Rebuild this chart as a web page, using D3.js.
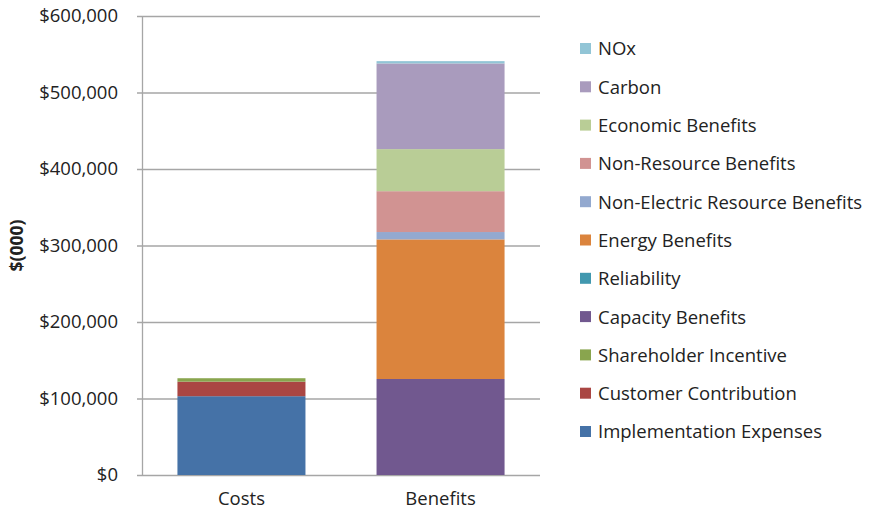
<!DOCTYPE html>
<html>
<head>
<meta charset="utf-8">
<script src="https://cdn.jsdelivr.net/npm/d3@7"></script>
<style>
  body { margin: 0; background: #fff; }
  svg { display: block; font-family: "Open Sans", sans-serif; }
</style>
</head>
<body>
<div id="chart"></div>
<script>
// 범주와 계열 (아래에서 위로 쌓이는 순서)
const categories = ["Costs", "Benefits"];
const seriesNames = [
  "Implementation Expenses", "Customer Contribution", "Shareholder Incentive",
  "Capacity Benefits", "Reliability", "Energy Benefits",
  "Non-Electric Resource Benefits", "Non-Resource Benefits", "Economic Benefits",
  "Carbon", "NOx"
];
const seriesColors = [
  "#4572A7", "#AA4643", "#89A54E",
  "#71588F", "#4198AF", "#DB843D",
  "#93A9CF", "#D19392", "#B9CD96",
  "#A99BBD", "#92C5D6"
];
// $(000) 값, seriesNames 순서
const costsValues    = [103000, 19000, 4500, 0, 0, 0, 0, 0, 0, 0, 0];
const benefitsValues = [0, 0, 0, 125500, 0, 182500, 9600, 53400, 55000, 112000, 3000];
const yTicks = [0, 100000, 200000, 300000, 400000, 500000, 600000];

const width = 871, height = 512;
const margin = {top: 16, right: 331, bottom: 37, left: 142};
const fontSize = 18.5;

const rows = categories.map((c, i) => {
  const vals = i === 0 ? costsValues : benefitsValues;
  const row = {category: c};
  seriesNames.forEach((s, j) => row[s] = vals[j]);
  return row;
});

const stacked = d3.stack().keys(seriesNames)(rows);

const svg = d3.select("#chart").append("svg")
  .attr("width", width)
  .attr("height", height);

const x = d3.scaleBand()
  .domain(categories)
  .range([margin.left, width - margin.right])
  .paddingInner(0.357)
  .paddingOuter(0.178);

const y = d3.scaleLinear()
  .domain([0, 600000])
  .range([height - margin.bottom, margin.top]);

// 격자선
svg.append("g")
  .selectAll("line")
  .data(yTicks)
  .join("line")
  .attr("x1", margin.left - 5)
  .attr("x2", width - margin.right)
  .attr("y1", d => y(d) + 0.5)
  .attr("y2", d => y(d) + 0.5)
  .attr("stroke", "#a6a6a6")
  .attr("stroke-width", 1.3);

// 막대
svg.append("g")
  .selectAll("g")
  .data(stacked)
  .join("g")
  .attr("fill", (d, i) => seriesColors[i])
  .selectAll("rect")
  .data(d => d.filter(p => p[1] - p[0] > 0))
  .join("rect")
  .attr("x", d => x(d.data.category))
  .attr("width", x.bandwidth())
  .attr("y", d => y(d[1]))
  .attr("height", d => y(d[0]) - y(d[1]));

// y축
const yAxis = svg.append("g")
  .attr("transform", `translate(${margin.left},0)`)
  .call(d3.axisLeft(y).tickValues(yTicks).tickSize(0).tickPadding(24)
    .tickFormat(d => "$" + d3.format(",")(d)));
yAxis.select(".domain").attr("stroke", "#a6a6a6").attr("stroke-width", 1.3);
yAxis.selectAll("text").attr("font-size", fontSize).attr("fill", "#222")
  .attr("font-family", "'Open Sans', sans-serif");

// x축
const xAxis = svg.append("g")
  .attr("transform", `translate(0,${height - margin.bottom})`)
  .call(d3.axisBottom(x).tickSize(0).tickPadding(17));
xAxis.select(".domain").remove();
xAxis.selectAll("text").attr("font-size", fontSize).attr("fill", "#222")
  .attr("font-family", "'Open Sans', sans-serif");

// y축 제목
svg.append("text")
  .attr("transform", `translate(23,${(margin.top + height - margin.bottom) / 2}) rotate(-90)`)
  .attr("text-anchor", "middle")
  .attr("font-size", 17.5)
  .attr("font-weight", "bold")
  .attr("fill", "#222")
  .text("$(000)");

// 범례 (위에서 아래: 쌓인 순서의 역순)
const legendItems = seriesNames.map((s, i) => ({name: s, color: seriesColors[i]})).reverse();
const legend = svg.append("g")
  .attr("transform", "translate(580,43)")
  .selectAll("g")
  .data(legendItems)
  .join("g")
  .attr("transform", (d, i) => `translate(0,${i * 38.3})`);

legend.append("rect")
  .attr("width", 11)
  .attr("height", 11)
  .attr("fill", d => d.color);

legend.append("text")
  .attr("x", 18)
  .attr("y", 6)
  .attr("dy", "0.35em")
  .attr("font-size", fontSize)
  .attr("fill", "#222")
  .text(d => d.name);
</script>
</body>
</html>
